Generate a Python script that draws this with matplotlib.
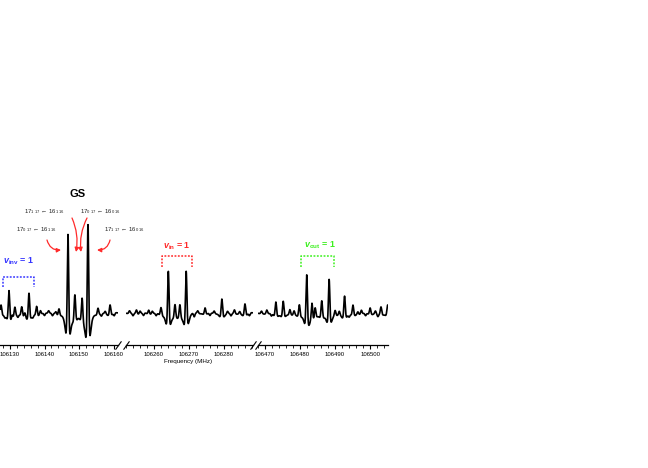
import numpy as np
import matplotlib
matplotlib.use('Agg')
import matplotlib.pyplot as plt

# 글꼴 설정 (Arial 계열)
plt.rcParams['font.family'] = ['Liberation Sans', 'DejaVu Sans']
plt.rcParams['mathtext.fontset'] = 'custom'
plt.rcParams['mathtext.rm'] = 'Liberation Sans'
plt.rcParams['mathtext.it'] = 'Liberation Sans:italic'
plt.rcParams['mathtext.bf'] = 'Liberation Sans:bold'
plt.rcParams['mathtext.bfit'] = 'Liberation Sans:italic:bold'

# ---- 데이터: 선 위치(MHz)와 세기(임의 단위) ----
gs_freq = [106127.4, 106129.7, 106131.4, 106133.4, 106135.5, 106137.7, 106144.2,
           106146.8, 106148.8, 106150.9, 106152.6, 106155.5, 106159.0]
gs_int = [8, 23, 7, 7, 20, 7, 5, 79, 20, 18, 89, 5, 8]
gs_weak_freq = [106128.5, 106130.6, 106132.3, 106134.3, 106136.6, 106138.8, 106140.0,
                106141.2, 106142.3, 106143.3, 106156.5, 106157.6, 106160.2]
gs_weak_int = [-2, 3, -2, 3, -2, 3, -2, 2, -2, 2, -2, 2, -2]

vin_freq = [106255.0, 106258.5, 106262.0, 106264.1, 106266.0, 106267.4, 106269.2,
            106274.6, 106279.4, 106283.0, 106286.0]
vin_int = [3, 3, 6, 42, 10, 10, 42, 5, 14, 3, 9]
vin_weak_freq = [106253.0, 106254.0, 106256.0, 106257.0, 106259.5, 106260.6, 106271.5,
                 106272.5, 106276.0, 106277.2, 106281.0, 106282.0, 106284.5, 106287.3]
vin_weak_int = [2, -2, 2, -2, 2, -2, -3, 2, -2, 2, 2, -2, 2, -2]

vout_freq = [106470.5, 106473.1, 106475.2, 106477.1, 106479.8, 106481.9, 106483.4,
             106484.3, 106486.2, 106488.3, 106490.0, 106492.7, 106495.1, 106497.5,
             106500.0, 106503.1, 106505.0]
vout_int = [3, 11, 12, 4, 9, 39, 13, 8, 13, 34, 4, 17, 8, 3, 5, 6, 8]
vout_weak_freq = [106469.0, 106471.8, 106478.3, 106491.2, 106494.0, 106496.5,
                  106498.7, 106501.5, 106502.2]
vout_weak_int = [2, -2, 3, 3, -2, 2, -2, 2, -2]

seg_ranges = [(106127.1, 106161.3), (106252.0, 106288.3), (106468.0, 106505.1)]
seg_ticks = [[106130, 106140, 106150, 106160],
             [106260, 106270, 106280],
             [106470, 106480, 106490, 106500]]
width = 0.6   # 선폭 (MHz)


def spectrum(f, freqs, ints):
    # 2차 미분 로렌츠 선형의 합
    y = np.zeros_like(f)
    for f0, a in zip(freqs, ints):
        u = (f - f0) / width
        y += a * (1 - 3 * u**2) / (1 + u**2)**3
    return y


W, H = 648, 468
fig = plt.figure(figsize=(W / 100, H / 100), dpi=100)

# 축 위치 (픽셀)
ax_px = [(0, 118), (126, 127), (258, 130)]
bottom_px, top_px = 345, 180
axes = []
for (left, w), rng, ticks in zip(ax_px, seg_ranges, seg_ticks):
    ax = fig.add_axes([left / W, (H - bottom_px) / H, w / W, (bottom_px - top_px) / H])
    for s in ['left', 'right', 'top']:
        ax.spines[s].set_visible(False)
    ax.spines['bottom'].set_linewidth(0.9)
    ax.set_yticks([])
    ax.set_xticks(ticks)
    ax.set_xticklabels([str(t) for t in ticks])
    ax.set_xticks(np.arange(ticks[0] - 10, ticks[-1] + 10, 2), minor=True)
    ax.set_xlim(*rng)      # 눈금 설정 뒤에 범위 지정
    ax.set_ylim(313 - bottom_px, 313 - top_px)
    ax.tick_params(axis='x', which='major', direction='out', length=3, width=0.8,
                   labelsize=4.3, pad=2)
    ax.tick_params(axis='x', which='minor', direction='out', length=1.8, width=0.6)
    ax.patch.set_alpha(0)
    axes.append(ax)

ax1, ax2, ax3 = axes

seg_lines = [(gs_freq + gs_weak_freq, gs_int + gs_weak_int),
             (vin_freq + vin_weak_freq, vin_int + vin_weak_int),
             (vout_freq + vout_weak_freq, vout_int + vout_weak_int)]
for ax, (freqs, ints) in zip(axes, seg_lines):
    lo, hi = ax.get_xlim()
    f = np.arange(lo + 0.1, hi - 0.1, 0.02)
    ax.plot(f, spectrum(f, freqs, ints), color='black', lw=1.2)

# 축 끊김 표시
brk = dict(marker=[(-1, -1.4), (1, 1.4)], markersize=6, color='k', mew=0.8,
           linestyle='none', clip_on=False)
ax1.plot([1], [0], transform=ax1.transAxes, **brk)
ax2.plot([0, 1], [0, 0], transform=ax2.transAxes, **brk)
ax3.plot([0], [0], transform=ax3.transAxes, **brk)

fig.text(188 / W, 1 - 362 / H, 'Frequency (MHz)', ha='center', va='center', fontsize=4.5)

# 진동 상태 표시
blue, red, green = '#3535ff', '#ff2a2a', '#3cf01e'
ax1.plot([106128.0, 106128.0, 106137.0, 106137.0], [26, 36, 36, 26], color=blue,
         lw=1.1, ls=(0, (1.2, 1.0)), clip_on=False)
ax1.text(106132.5, 52, r'$\mathbfit{v}_{\mathbf{inv}}$ = 1', color=blue, fontsize=6.4,
         fontweight='bold', ha='center', va='center')
ax2.plot([106262.3, 106262.3, 106270.9, 106270.9], [46, 57, 57, 46], color=red,
         lw=1.1, ls=(0, (1.2, 1.0)), clip_on=False)
ax2.text(106266.4, 67, r'$\mathbfit{v}_{\mathbf{in}}$ = 1', color=red, fontsize=6.4,
         fontweight='bold', ha='center', va='center')
ax3.plot([106480.3, 106480.3, 106489.7, 106489.7], [46, 57, 57, 46], color=green,
         lw=1.1, ls=(0, (1.2, 1.0)), clip_on=False)
ax3.text(106485.6, 68, r'$\mathbfit{v}_{\mathbf{out}}$ = 1', color=green, fontsize=6.4,
         fontweight='bold', ha='center', va='center')

# 기저 상태 전이 표시
ax1.text(106149.7, 119, 'GS', fontsize=8, fontweight='bold', ha='center', va='center')
labels = [(r'17$_{1\ 17}$ ← 16$_{1\ 16}$', 106140.1, 101, (106147.97, 95), (106149.13, 61), -0.15),
          (r'17$_{0\ 17}$ ← 16$_{0\ 16}$', 106156.1, 101, (106152.32, 95), (106150.58, 61), 0.15),
          (r'17$_{0\ 17}$ ← 16$_{1\ 16}$', 106137.8, 83, (106140.72, 73), (106144.78, 63), 0.4),
          (r'17$_{1\ 17}$ ← 16$_{0\ 16}$', 106163.3, 83, (106158.99, 73), (106155.22, 63), -0.4)]
for txt, tx, ty, start, end, rad in labels:
    ax1.text(tx, ty, txt, fontsize=4.3, color='#222222', ha='center', va='center')
    ax1.annotate('', xy=end, xytext=start, annotation_clip=False,
                 arrowprops=dict(arrowstyle='-|>', color=red, lw=0.9, mutation_scale=6,
                                 shrinkA=0, shrinkB=0,
                                 connectionstyle='arc3,rad=%s' % rad))

fig.savefig('out.png', dpi=100)
